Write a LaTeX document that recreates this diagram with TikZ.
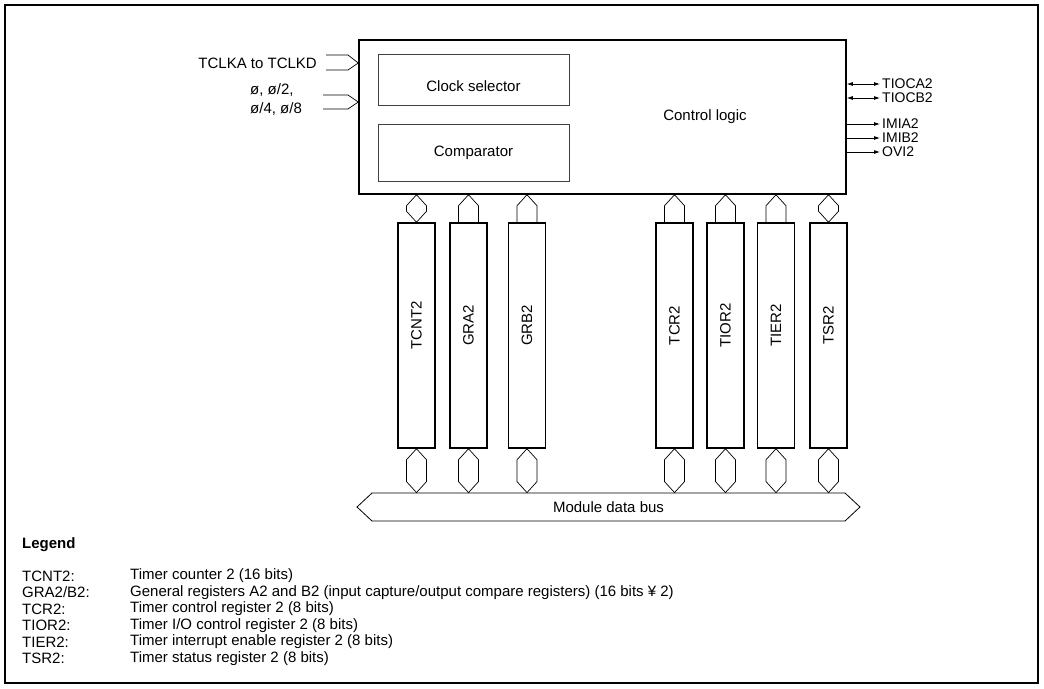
\documentclass[tikz,border=0pt]{standalone}
\usepackage{fontspec}
\setmainfont{Liberation Sans}
\usetikzlibrary{arrows.meta,positioning,calc,shapes.arrows}

\tikzset{
  blk/.style={draw,line width=1.5pt,inner sep=0pt},
  reg/.style={blk,minimum width=37pt,minimum height=225pt},
  subblk/.style={draw,black!75,line width=0.6pt,inner sep=0pt,minimum width=191pt},
  txt/.style={font=\fontsize{15pt}{16pt}\selectfont,inner sep=1pt},
  pin/.style={font=\fontsize{14pt}{15pt}\selectfont,inner sep=0pt,anchor=west},
  link/.style={line width=0.7pt,line join=miter},
  sig/.style={line width=0.8pt,-{Latex[length=6pt,width=4pt]}},
  bisig/.style={line width=0.8pt,{Latex[length=6pt,width=4pt]}-{Latex[length=6pt,width=4pt]}},
}

% two-way link between two apexes
\newcommand{\hexlink}[2]{%
  \draw[link] (#1) -- ($(#1)+(-10,11)$) -- ($(#2)+(-10,-11)$) -- (#2)
    -- ($(#2)+(10,-11)$) -- ($(#1)+(10,11)$) -- cycle;}
% one-way link, pointing up
\newcommand{\uplink}[2]{%
  \draw[link] ($(#2)+(-10,0)$) -- ($(#1)+(-10,11)$) -- (#1)
    -- ($(#1)+(10,11)$) -- ($(#2)+(10,0)$);}

\begin{document}
\begin{tikzpicture}[x=1pt,y=-1pt]
  \useasboundingbox (0,0) rectangle (1044,688);
  \draw[line width=1.2pt] (5,5) rectangle (1038,683);

  % control block
  \node[blk,minimum width=487pt,minimum height=154pt] (ctrl) at (602.5,117) {};
  \node[txt] (ctrllbl) at (705,117) {Control logic};
  \node[subblk,minimum height=51pt] (clksel) at (473.5,79.5) {};
  \node[txt] at (473.5,86) {Clock selector};
  \node[subblk,minimum height=57pt] (cmp) at (473.5,152.5) {};
  \node[txt] at (473.5,153) {Comparator};

  % inputs
  \node[txt,anchor=east] (tclk) at (318,63) {TCLKA to TCLKD};
  \draw[link] ($(tclk.east)+(8,-8)$) -- ++(22,0) -- (ctrl.west |- tclk)
    -- ($(tclk.east)+(30,7)$) -- ++(-22,0);
  \node[txt,anchor=west,align=left,font=\fontsize{15pt}{19pt}\selectfont] (phi) at (249,99.5) {ø, ø/2,\\ø/4, ø/8};
  \coordinate (phin) at (359,102);
  \draw[link] (323,95) -- (348,95) -- (ctrl.west |- phin) -- (348,109) -- (323,109);

  % outputs
  \node[pin] (tioca) at (882,84) {TIOCA2};
  \node[pin] (tiocb) at (882,98) {TIOCB2};
  \node[pin] (imia) at (882,124) {IMIA2};
  \node[pin] (imib) at (882,138) {IMIB2};
  \node[pin] (ovi) at (882,152) {OVI2};
  \draw[bisig] (ctrl.east |- tioca.west) -- ($(tioca.west)+(-2,0)$);
  \draw[bisig] (ctrl.east |- tiocb.west) -- ($(tiocb.west)+(-2,0)$);
  \foreach \s in {imia,imib,ovi}
    \draw[sig] (ctrl.east |- \s.west) -- ($(\s.west)+(-2,0)$);

  % registers
  \node[reg] (tcnt) at (416.5,335.5) {};
  \node[reg] (gra)  at (468.5,335.5) {};
  \node[reg] (grb)  at (527,335.5)   {};
  \node[reg] (tcr)  at (674.5,335.5) {};
  \node[reg] (tior) at (725.5,335.5) {};
  \node[reg] (tier) at (776,335.5)   {};
  \node[reg] (tsr)  at (828.5,335.5) {};
  \foreach \r/\l in {tcnt/TCNT2,gra/GRA2,grb/GRB2,tcr/TCR2,tior/TIOR2,tier/TIER2,tsr/TSR2}
    \node[txt,rotate=90] (\r-lbl) at ($(\r.center)+(0,-10)$) {\l};

  % data bus
  \node[draw,line width=0.8pt,double arrow,double arrow head extend=0pt,
    double arrow tip angle=86,minimum height=503pt,minimum width=28pt,
    inner sep=0pt,txt] (bus) at (608.5,507) {Module data bus};

  \foreach \r in {tcnt,gra,grb,tcr,tior,tier,tsr}{
    \coordinate (\r-up) at (\r.north |- ctrl.south);
    \coordinate (\r-dn) at (\r.south |- bus.north);
    \hexlink{\r.south}{\r-dn}
  }
  \hexlink{tcnt-up}{tcnt.north}
  \hexlink{tsr-up}{tsr.north}
  \foreach \r in {gra,grb,tcr,tior,tier}
    \uplink{\r-up}{\r.north};

  % legend
  \node[txt,anchor=west,font=\fontsize{15pt}{16pt}\selectfont\bfseries] (leg) at (21,545) {Legend};
  \foreach \k/\d [count=\i] in {{TCNT2:}/{Timer counter 2 (16 bits)},
      {GRA2/B2:}/{General registers A2 and B2 (input capture/output compare registers) (16 bits ¥ 2)},
      {TCR2:}/{Timer control register 2 (8 bits)},
      {TIOR2:}/{Timer I/O control register 2 (8 bits)},
      {TIER2:}/{Timer interrupt enable register 2 (8 bits)},
      {TSR2:}/{Timer status register 2 (8 bits)}}{
    \node[txt,anchor=west] (k\i) at (21,559.5+16.5*\i) {\k};
    \node[txt,anchor=west] (d\i) at (129,559.5+16.5*\i) {\d};
  }
\end{tikzpicture}
\end{document}
